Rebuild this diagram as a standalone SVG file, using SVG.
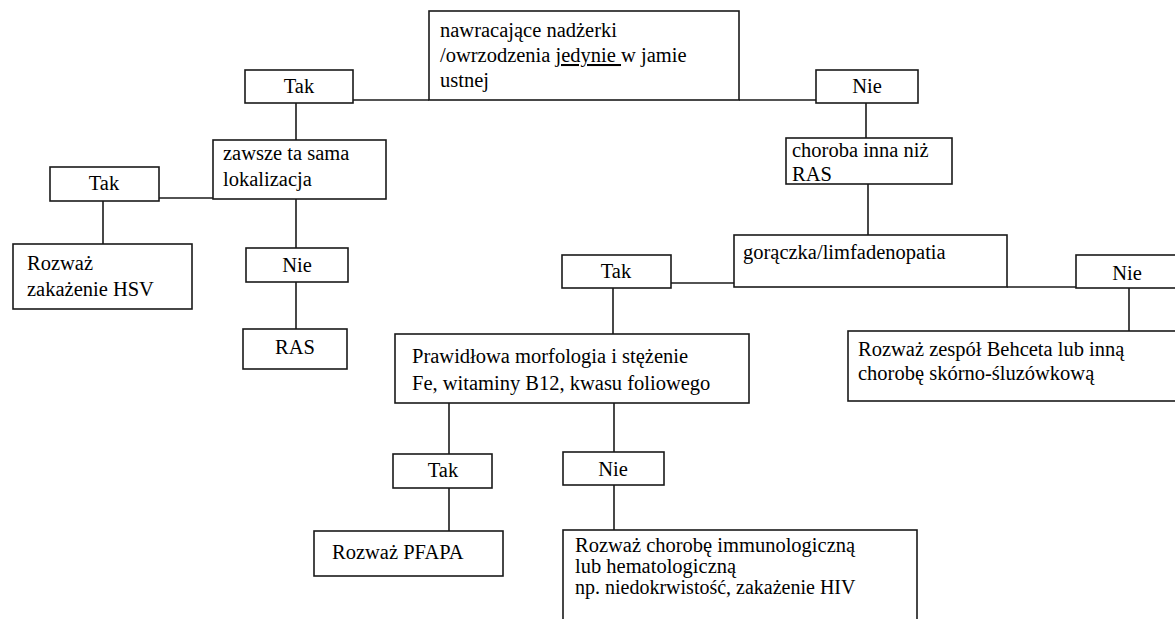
<svg xmlns="http://www.w3.org/2000/svg" width="1175" height="619" viewBox="0 0 1175 619">
<rect width="1175" height="619" fill="#fff"/>
<g id="connectors" stroke="#1a1a1a" stroke-width="1.6">
<line x1="353" y1="100" x2="429" y2="100"/>
<line x1="739" y1="100" x2="816" y2="100"/>
<line x1="296" y1="103" x2="296" y2="140"/>
<line x1="159" y1="198" x2="213" y2="198"/>
<line x1="103" y1="201" x2="103" y2="244"/>
<line x1="296" y1="199" x2="296" y2="248"/>
<line x1="296" y1="282" x2="296" y2="329"/>
<line x1="866" y1="103" x2="866" y2="138"/>
<line x1="868" y1="184" x2="868" y2="235"/>
<line x1="671" y1="283" x2="734" y2="283"/>
<line x1="1007" y1="287" x2="1076" y2="287"/>
<line x1="1129" y1="288" x2="1129" y2="331"/>
<line x1="613" y1="288" x2="613" y2="334"/>
<line x1="449" y1="403" x2="449" y2="454"/>
<line x1="449" y1="488" x2="449" y2="531"/>
<line x1="614" y1="403" x2="614" y2="452"/>
<line x1="614" y1="485" x2="614" y2="530"/>
</g>
<g id="root">
<rect x="429" y="11" width="310" height="89" fill="#fff" stroke="#1a1a1a" stroke-width="1.6"/>
<text x="440" y="37" font-family="Liberation Serif" font-size="20.5">nawracające nadżerki</text>
<text x="440" y="62" font-family="Liberation Serif" font-size="20.5">/owrzodzenia <tspan text-decoration="underline">jedynie </tspan> w jamie</text>
<text x="440" y="87" font-family="Liberation Serif" font-size="20.5">ustnej</text>
</g>
<g id="tak1">
<rect x="245" y="70" width="108" height="33" fill="#fff" stroke="#1a1a1a" stroke-width="1.6"/>
<text x="299" y="93" text-anchor="middle" font-family="Liberation Serif" font-size="20.5">Tak</text>
</g>
<g id="nie1">
<rect x="816" y="70" width="102" height="33" fill="#fff" stroke="#1a1a1a" stroke-width="1.6"/>
<text x="867" y="93" text-anchor="middle" font-family="Liberation Serif" font-size="20.5">Nie</text>
</g>
<g id="zawsze">
<rect x="213" y="140" width="173" height="59" fill="#fff" stroke="#1a1a1a" stroke-width="1.6"/>
<text x="223" y="160" font-family="Liberation Serif" font-size="20.5">zawsze ta sama</text>
<text x="223" y="186" font-family="Liberation Serif" font-size="20.5">lokalizacja</text>
</g>
<g id="tak2">
<rect x="50" y="167" width="109" height="34" fill="#fff" stroke="#1a1a1a" stroke-width="1.6"/>
<text x="104" y="190" text-anchor="middle" font-family="Liberation Serif" font-size="20.5">Tak</text>
</g>
<g id="hsv">
<rect x="13" y="244" width="179" height="65" fill="#fff" stroke="#1a1a1a" stroke-width="1.6"/>
<text x="27" y="270" font-family="Liberation Serif" font-size="20.5">Rozważ</text>
<text x="27" y="296" font-family="Liberation Serif" font-size="20.5">zakażenie HSV</text>
</g>
<g id="nie2">
<rect x="246" y="248" width="102" height="34" fill="#fff" stroke="#1a1a1a" stroke-width="1.6"/>
<text x="297" y="272" text-anchor="middle" font-family="Liberation Serif" font-size="20.5">Nie</text>
</g>
<g id="ras">
<rect x="243" y="329" width="104" height="40" fill="#fff" stroke="#1a1a1a" stroke-width="1.6"/>
<text x="295" y="354" text-anchor="middle" font-family="Liberation Serif" font-size="20.5">RAS</text>
</g>
<g id="inna">
<rect x="786" y="138" width="166" height="46" fill="#fff" stroke="#1a1a1a" stroke-width="1.6"/>
<text x="792" y="157" font-family="Liberation Serif" font-size="20.5">choroba inna niż</text>
<text x="792" y="181" font-family="Liberation Serif" font-size="20.5">RAS</text>
</g>
<g id="goraczka">
<rect x="734" y="235" width="273" height="52" fill="#fff" stroke="#1a1a1a" stroke-width="1.6"/>
<text x="743" y="259" font-family="Liberation Serif" font-size="20.5">gorączka/limfadenopatia</text>
</g>
<g id="tak3">
<rect x="562" y="255" width="109" height="33" fill="#fff" stroke="#1a1a1a" stroke-width="1.6"/>
<text x="616" y="278" text-anchor="middle" font-family="Liberation Serif" font-size="20.5">Tak</text>
</g>
<g id="nie3">
<rect x="1076" y="255" width="102" height="33" fill="#fff" stroke="#1a1a1a" stroke-width="1.6"/>
<text x="1127" y="280" text-anchor="middle" font-family="Liberation Serif" font-size="20.5">Nie</text>
</g>
<g id="behcet">
<rect x="848" y="331" width="330" height="70" fill="#fff" stroke="#1a1a1a" stroke-width="1.6"/>
<text x="858" y="356" font-family="Liberation Serif" font-size="20.5">Rozważ zespół Behceta lub inną</text>
<text x="858" y="380" font-family="Liberation Serif" font-size="20.5">chorobę skórno-śluzówkową</text>
</g>
<g id="morfologia">
<rect x="395" y="334" width="354" height="69" fill="#fff" stroke="#1a1a1a" stroke-width="1.6"/>
<text x="412" y="363" font-family="Liberation Serif" font-size="20.5">Prawidłowa morfologia i  stężenie</text>
<text x="412" y="390" font-family="Liberation Serif" font-size="20.5">Fe, witaminy B12, kwasu foliowego</text>
</g>
<g id="tak4">
<rect x="393" y="454" width="99" height="34" fill="#fff" stroke="#1a1a1a" stroke-width="1.6"/>
<text x="443" y="477" text-anchor="middle" font-family="Liberation Serif" font-size="20.5">Tak</text>
</g>
<g id="nie4">
<rect x="563" y="452" width="101" height="33" fill="#fff" stroke="#1a1a1a" stroke-width="1.6"/>
<text x="613" y="476" text-anchor="middle" font-family="Liberation Serif" font-size="20.5">Nie</text>
</g>
<g id="pfapa">
<rect x="314" y="531" width="189" height="45" fill="#fff" stroke="#1a1a1a" stroke-width="1.6"/>
<text x="332" y="559" font-family="Liberation Serif" font-size="20.5">Rozważ PFAPA</text>
</g>
<g id="immuno">
<rect x="563" y="530" width="354" height="100" fill="#fff" stroke="#1a1a1a" stroke-width="1.6"/>
<text x="575" y="552" font-family="Liberation Serif" font-size="20.5">Rozważ chorobę immunologiczną</text>
<text x="575" y="573" font-family="Liberation Serif" font-size="20.5">lub hematologiczną</text>
<text x="575" y="594" font-family="Liberation Serif" font-size="20">np. niedokrwistość, zakażenie HIV</text>
</g>
</svg>
